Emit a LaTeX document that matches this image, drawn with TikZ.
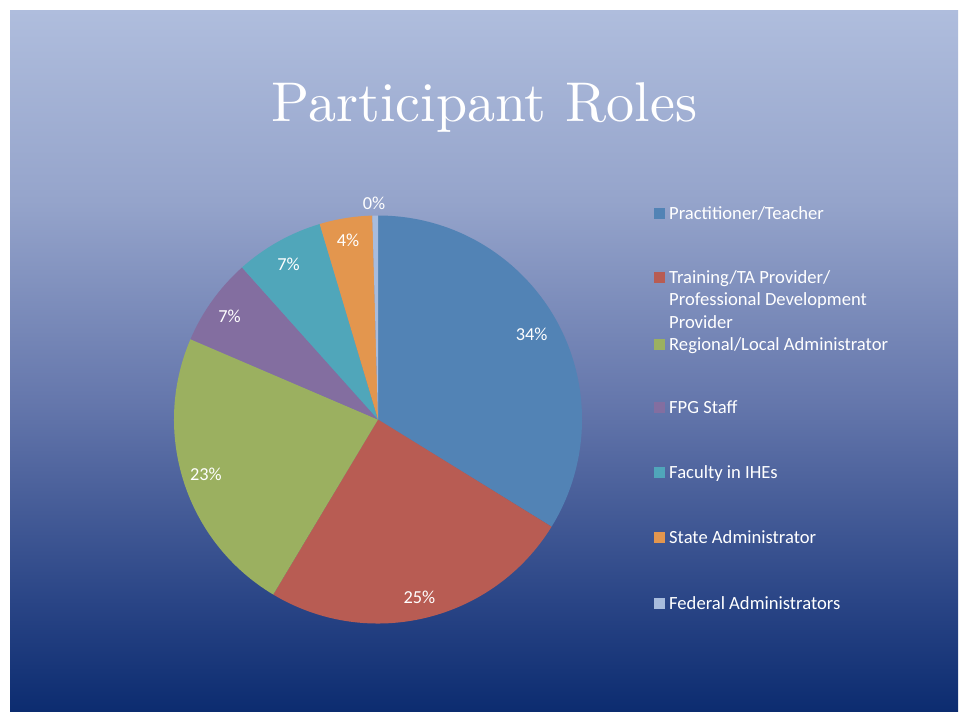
\documentclass[tikz,border=0pt]{standalone}
\usepackage{fontspec}
\newfontfamily\cfont{Carlito}
\newfontfamily\tfont{lmroman10-regular.otf}
\definecolor{bgA}{HTML}{0C2C70}
\definecolor{bgB}{HTML}{2A4586}
\definecolor{bgC}{HTML}{6577AC}
\definecolor{bgD}{HTML}{95A4CB}
\definecolor{bgE}{HTML}{AFBDDD}
\definecolor{cBlue}{HTML}{5283B5}
\definecolor{cRed}{HTML}{B85C53}
\definecolor{cGreen}{HTML}{9BB060}
\definecolor{cPurple}{HTML}{836EA0}
\definecolor{cTeal}{HTML}{50A6BA}
\definecolor{cOrange}{HTML}{E3964E}
\definecolor{cGray}{HTML}{A8BCDD}
\pgfdeclareverticalshading{bgshade}{100bp}{color(0bp)=(bgA); color(25bp)=(bgA); color(32.9bp)=(bgB); color(47.1bp)=(bgC); color(61.4bp)=(bgD); color(75bp)=(bgE); color(100bp)=(bgE)}
\begin{document}
\begin{tikzpicture}[x=1pt,y=-1pt,
  pct/.style={font=\cfont\fontsize{18.3}{20}\selectfont, text=white, inner sep=0pt, anchor=base},
  legtxt/.style={font=\cfont\fontsize{18.6}{20}\selectfont, text=white, inner sep=0pt, anchor=base west},
  legsq/.style={minimum size=11pt, inner sep=0pt, draw=none}]
\useasboundingbox (0,0) rectangle (964,713);
\fill[white] (0,0) rectangle (964,713);
\shade[shading=bgshade] (10,10) rectangle (958,711);
\node[font=\tfont\fontsize{56}{60}\selectfont, text=white, inner sep=0pt, anchor=base] (title) at (484.5,121) {Participant Roles};
\begin{scope}[shift={(378,419.5)}]
  \fill[cBlue] (0,0) -- (90:204pt) arc[start angle=90, end angle=-31.7, radius=204pt] -- cycle;
  \fill[cRed] (0,0) -- (-31.7:204pt) arc[start angle=-31.7, end angle=-120.9, radius=204pt] -- cycle;
  \fill[cGreen] (0,0) -- (-120.9:204pt) arc[start angle=-120.9, end angle=-203.2, radius=204pt] -- cycle;
  \fill[cPurple] (0,0) -- (-203.2:204pt) arc[start angle=-203.2, end angle=-228.2, radius=204pt] -- cycle;
  \fill[cTeal] (0,0) -- (-228.2:204pt) arc[start angle=-228.2, end angle=-253.4, radius=204pt] -- cycle;
  \fill[cOrange] (0,0) -- (-253.4:204pt) arc[start angle=-253.4, end angle=-268.4, radius=204pt] -- cycle;
  \fill[cGray] (0,0) -- (-268.4:204pt) arc[start angle=-268.4, end angle=-270, radius=204pt] -- cycle;
\end{scope}
\node[pct] (p1) at (531.7,340.7) {34\%};
\node[pct] (p2) at (419.5,603) {25\%};
\node[pct] (p3) at (206,480) {23\%};
\node[pct] (p4) at (229.5,322.7) {7\%};
\node[pct] (p5) at (288.5,270) {7\%};
\node[pct] (p6) at (348,246.7) {4\%};
\node[pct] (p7) at (374,209) {0\%};
\node[legsq, fill=cBlue] (s1) at (659.5,213) {};
\node[legtxt] (l1) at (669,219) {Practitioner/Teacher};
\node[legsq, fill=cRed] (s2) at (659.5,277.5) {};
\node[legtxt] (l2a) at (669,283) {Training/TA Provider/};
\node[legtxt] (l2b) at (669,305.5) {Professional Development};
\node[legtxt] (l2c) at (669,328) {Provider};
\node[legsq, fill=cGreen] (s3) at (659.5,344) {};
\node[legtxt] (l3) at (669,350) {Regional/Local Administrator};
\node[legsq, fill=cPurple] (s4) at (659.5,407.5) {};
\node[legtxt] (l4) at (669,413.5) {FPG Staff};
\node[legsq, fill=cTeal] (s5) at (659.5,472.5) {};
\node[legtxt] (l5) at (669,478.5) {Faculty in IHEs};
\node[legsq, fill=cOrange] (s6) at (659.5,537.5) {};
\node[legtxt] (l6) at (669,543.5) {State Administrator};
\node[legsq, fill=cGray] (s7) at (659.5,603.5) {};
\node[legtxt] (l7) at (669,609.5) {Federal Administrators};
\end{tikzpicture}
\end{document}
